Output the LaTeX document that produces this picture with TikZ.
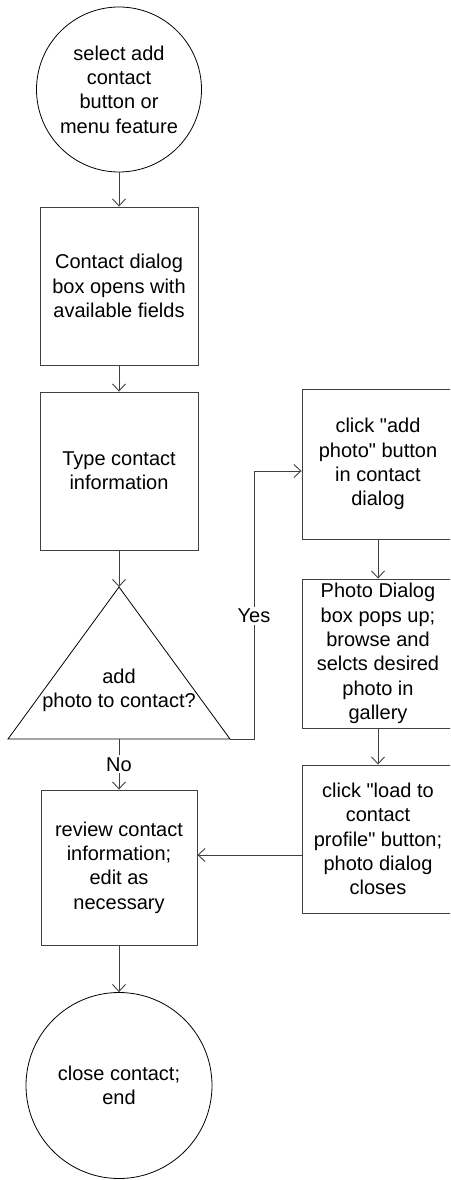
\documentclass[tikz,border=0pt]{standalone}
\usepackage{fontspec}
\setmainfont{Liberation Sans}[Ligatures=TeXOff]
\usetikzlibrary{arrows.meta}
\tikzset{
    txt/.style={font=\fontsize{20pt}{24.3pt}\selectfont, align=center},
    box/.style={txt, draw=black!75, line width=0.9pt, rectangle, inner sep=0pt,
        minimum width=#1, minimum height=155pt},
    term/.style={txt, draw, line width=0.8pt, circle, inner sep=0pt, minimum size=#1},
    flow/.style={draw=black!75, line width=0.9pt, -{Straight Barb[length=7pt,width=13pt]}},
    lbl/.style={txt, fill=white, inner sep=2pt}
}

\begin{document}
\begin{tikzpicture}[x=1pt, y=-1pt]
            \useasboundingbox (0,0) rectangle (450,1180);
            \clip (0,0) rectangle (450,1180);

            % Main column
            \node[term=165pt] (start) at (119,89.5) {select add\\contact\\button or\\menu feature};
            \node[box=158pt, minimum height=158pt] (contact) at (119,286) {Contact dialog\\box opens with\\available fields};
            \node[box=158pt, minimum height=158pt] (typeinfo) at (119,471) {Type contact\\information};
            \node[box=156pt] (review) at (119,867.5) {review contact\\information;\\edit as\\necessary};
            \node[term=186pt] (finish) at (119,1085.5) {close contact;\\end};

            % Decision
            \coordinate (apex) at (119,587);
            \coordinate (baseL) at (8,739);
            \coordinate (baseR) at (230,739);
            \coordinate (baseM) at (119,739);
            \draw[line width=0.8pt] (apex) -- (baseR) -- (baseL) -- cycle;
            \node[txt] (ask) at (119,690) {add\\photo to contact?};

            % Photo column
            \node[box=152pt, minimum height=150pt] (addphoto) at (378,464) {click "add\\photo" button\\in contact\\dialog};
            \node[box=152pt, minimum height=149pt] (gallery) at (378,653.5) {Photo Dialog\\box pops up;\\browse and\\selcts desired\\photo in\\gallery};
            \node[box=152pt, minimum height=148pt] (loadphoto) at (378,839) {click "load to\\contact\\profile" button;\\photo dialog\\closes};

            % Connectors
            \draw[flow] (start) -- (contact);
            \draw[flow] (contact) -- (typeinfo);
            \draw[flow] (typeinfo) -- (apex);
            \draw[flow] (baseM) -- node[lbl] {No} (review);
            \draw[flow] (review) -- (finish);
            \coordinate (yesturn) at (254,739);
            \coordinate (yesbend) at (254,471);
            \draw[flow] (baseR) -- (yesturn) -- node[lbl, pos=0.46] {Yes} (yesbend) -- (yesbend -| addphoto.west);
            \draw[flow] (addphoto) -- (gallery);
            \draw[flow] (gallery) -- (loadphoto);
            \coordinate (backin) at ([yshift=-16pt]loadphoto.west);
            \draw[flow] (backin) -- (backin -| review.east);
        \end{tikzpicture}
\end{document}
